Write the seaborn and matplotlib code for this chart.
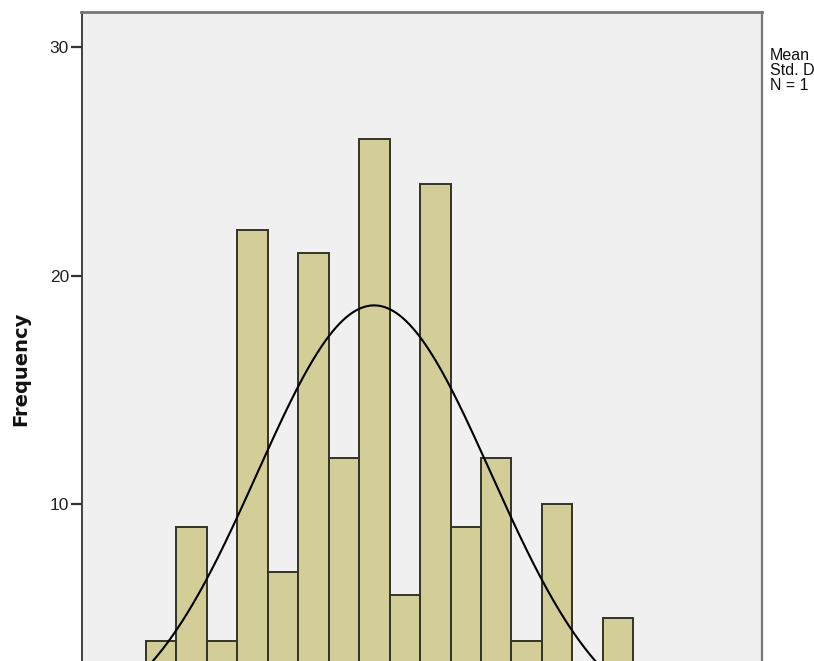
import numpy as np
import seaborn as sns
import matplotlib.pyplot as plt

# histogram counts (bins in units of one bin width)
bin_edges = [0, 1, 2, 3, 4, 5, 6, 7, 8, 9, 10, 11, 12, 13, 14, 15, 16]
counts = [4, 9, 4, 22, 7, 21, 12, 26, 6, 24, 9, 12, 4, 10, 0, 5]

# normal curve parameters (estimated from the curve)
mean_val = 7.49
sd_val = 3.84
n_val = 180

y_ticks = [10, 20, 30]
# the stats box is cut by the right edge in the reference, only this much shows
stat_lines = ["Mean", "Std. D", "N = 1"]

sns.set_theme(style="white")
plt.rcParams['font.family'] = ['Liberation Sans', 'DejaVu Sans']

fig = plt.figure(figsize=(8.14, 6.61), dpi=100)
ax = fig.add_axes([81.5 / 814, 1 - 732.3 / 661, (762 - 81.5) / 814, (732.3 - 12) / 661])
ax.set_facecolor("#f0f0f0")

centers = [(a + b) / 2 for a, b in zip(bin_edges[:-1], bin_edges[1:])]
sns.histplot(x=centers, weights=counts, bins=bin_edges, ax=ax,
             color="#d3ce97", alpha=1, edgecolor="#333326", linewidth=1.4)

# normal curve scaled to counts
xs = np.linspace(-3, 20, 400)
ys = n_val * (bin_edges[1] - bin_edges[0]) / (sd_val * np.sqrt(2 * np.pi)) * np.exp(-0.5 * ((xs - mean_val) / sd_val) ** 2)
sns.lineplot(x=xs, y=ys, ax=ax, color="black", linewidth=1.5)

ax.set_xlim(-2.12, 20.23)
ax.set_ylim(0, 31.55)
ax.set_xticks([])
ax.set_yticks(y_ticks)
ax.set_yticklabels([str(t) for t in y_ticks], fontsize=12.5, color="#222222")
ax.tick_params(axis="y", length=8, width=1.6, color="#333333", left=True, pad=1)
ax.set_xlabel("")
ax.set_ylabel("")

ax.spines["left"].set_color("#333333")
ax.spines["left"].set_linewidth(1.3)
ax.spines["top"].set_color("#777777")
ax.spines["top"].set_linewidth(2)
ax.spines["right"].set_color("#777777")
ax.spines["right"].set_linewidth(1.6)
ax.spines["bottom"].set_visible(False)

fig.text(21 / 814, 1 - 369 / 661, "Frequency", rotation=90, fontsize=14,
         fontweight="bold", family=["DejaVu Sans"], ha="center", va="center",
         color="#111111")

for i, line in enumerate(stat_lines):
    fig.text(770 / 814, 1 - (60 + i * 15) / 661, line, fontsize=11.5,
             ha="left", va="baseline", color="#111111")

fig.savefig("out.png", dpi=100)
